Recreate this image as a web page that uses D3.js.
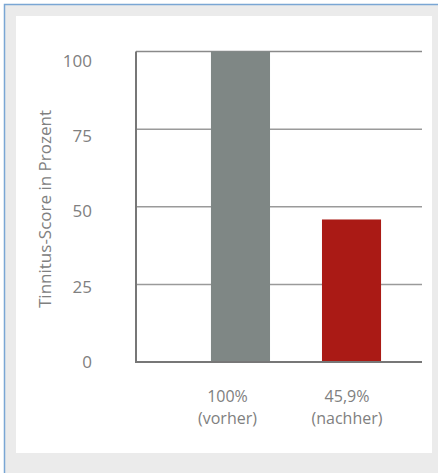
<!DOCTYPE html>
<html>
<head>
<meta charset="utf-8">
<script src="https://cdn.jsdelivr.net/npm/d3@7"></script>
<style>
  body { margin: 0; background: #ffffff; }
  svg { display: block; font-family: "Open Sans", "Noto Sans", sans-serif; }
</style>
</head>
<body>
<div id="chart"></div>
<script>
// data
const categories = ["vorher", "nachher"];
const values = [100, 45.9];
const valueLabels = ["100%", "45,9%"];
const subLabels = ["(vorher)", "(nachher)"];
const yTicks = [0, 25, 50, 75, 100];
const barColors = ["#7f8785", "#aa1a15"];

const width = 438, height = 473;

const svg = d3.select("#chart").append("svg")
    .attr("width", width)
    .attr("height", height);

// outer frame (only left + top edges visible)
svg.append("rect")
    .attr("x", 4.5).attr("y", 4.5)
    .attr("width", width + 20).attr("height", height + 20)
    .attr("fill", "#ebebeb")
    .attr("stroke", "#7aa6d4")
    .attr("stroke-width", 1.5);

svg.append("rect")
    .attr("x", 16).attr("y", 16)
    .attr("width", 416).attr("height", 437)
    .attr("fill", "#ffffff");

// scales
let x = d3.scaleBand().domain(categories).range([159, 433]).padding(0.468);
let y = d3.scaleLinear().domain([0, 100]).range([362, 51.5]);
// tick labels sit a bit lower than their gridlines in the original
let yLabel = d3.scaleLinear().domain([0, 100]).range([362, 61]);
let xLabel = d3.scalePoint().domain(categories).range([227.5, 347]);

// gridlines
svg.append("g")
    .selectAll("line")
    .data(yTicks.filter(d => d > 0))
    .enter().append("line")
    .attr("x1", 136).attr("x2", 422)
    .attr("y1", d => y(d)).attr("y2", d => y(d))
    .attr("stroke", d => d === 100 ? "#8a8a8a" : "#9a9a9a")
    .attr("stroke-width", 1.5);

// bars
svg.append("g")
    .selectAll("rect")
    .data(values)
    .enter().append("rect")
    .attr("x", (d, i) => x(categories[i]))
    .attr("width", x.bandwidth())
    .attr("y", d => y(d))
    .attr("height", d => y(0) - y(d))
    .attr("fill", (d, i) => barColors[i]);

// axis lines
svg.append("line")
    .attr("x1", 136).attr("x2", 136)
    .attr("y1", y(100)).attr("y2", y(0) + 1)
    .attr("stroke", "#777").attr("stroke-width", 2);
svg.append("line")
    .attr("x1", 135).attr("x2", 422)
    .attr("y1", y(0)).attr("y2", y(0))
    .attr("stroke", "#777").attr("stroke-width", 2);

// y tick labels
svg.append("g")
    .selectAll("text")
    .data(yTicks)
    .enter().append("text")
    .attr("x", 92)
    .attr("y", d => yLabel(d))
    .attr("dy", "0.35em")
    .attr("text-anchor", "end")
    .attr("fill", "#808080")
    .style("font-size", "17px")
    .text(d => d);

// y axis title
svg.append("text")
    .attr("transform", "translate(51,209) rotate(-90)")
    .attr("text-anchor", "middle")
    .attr("fill", "#808080")
    .style("font-size", "17px")
    .text("Tinnitus-Score in Prozent");

// x labels
categories.forEach((c, i) => {
    svg.append("text")
        .attr("x", xLabel(c))
        .attr("y", 402)
        .attr("text-anchor", "middle")
        .attr("fill", "#808080")
        .style("font-size", "16px")
        .text(valueLabels[i]);
    svg.append("text")
        .attr("x", xLabel(c))
        .attr("y", 424)
        .attr("text-anchor", "middle")
        .attr("fill", "#808080")
        .style("font-size", "16px")
        .text(subLabels[i]);
});
</script>
</body>
</html>
